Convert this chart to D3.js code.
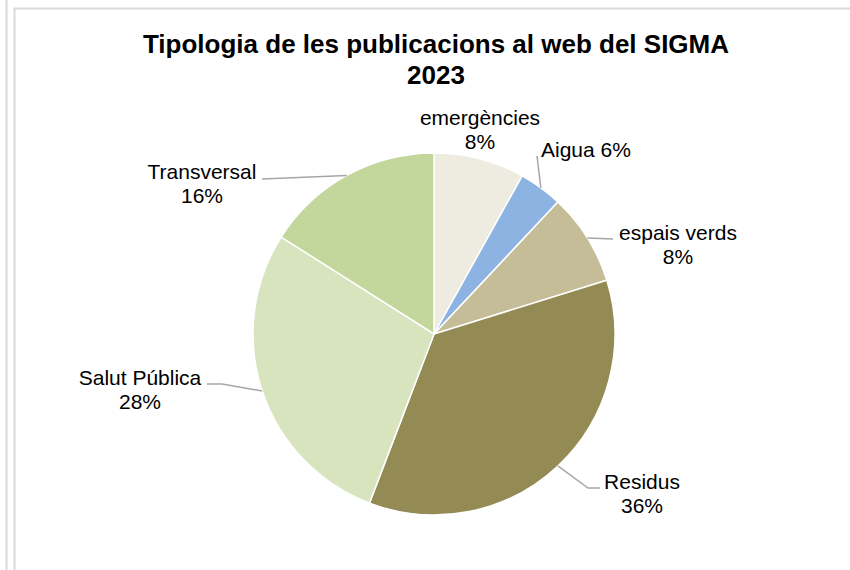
<!DOCTYPE html>
<html>
<head>
<meta charset="utf-8">
<script src="https://cdn.jsdelivr.net/npm/d3@7"></script>
<style>
  body { margin: 0; background: #fff; }
  text { font-family: "Liberation Sans", Arial, sans-serif; fill: #000; }
</style>
</head>
<body>
<svg id="pie-chart"></svg>
<script>
// data, clockwise from 12 o'clock
var categories = ["emergències", "Aigua", "espais verds", "Residus", "Salut Pública", "Transversal"];
var values     = [8.1, 3.9, 8.2, 35.6, 28.2, 16.0];
var pctLabels  = ["8%", "6%", "8%", "36%", "28%", "16%"];
var colors     = ["#eeece1", "#8db3e2", "#c4bd97", "#948a54", "#d7e4bd", "#c3d69b"];

var width = 850, height = 570;
var cx = 434, cy = 334, radius = 181;

// label placement (x, y of first line, anchor, one line or two, leader elbow points)
var labelLayout = [
  {x: 480, y: 125, anchor: "middle", oneLine: false, leader: null},
  {x: 541, y: 157, anchor: "start",  oneLine: true,  leader: [[537, 156]]},
  {x: 678, y: 240, anchor: "middle", oneLine: false, leader: [[613, 239]]},
  {x: 642, y: 489, anchor: "middle", oneLine: false, leader: [[588, 488], [600, 488]]},
  {x: 140, y: 385, anchor: "middle", oneLine: false, leader: [[222, 384], [207, 384]]},
  {x: 202, y: 179, anchor: "middle", oneLine: false, leader: [[262, 179]]}
];

var svg = d3.select("#pie-chart")
  .attr("width", width)
  .attr("height", height);

// frame lines
svg.append("line")
  .attr("x1", 6.5).attr("y1", 0).attr("x2", 6.5).attr("y2", height)
  .attr("stroke", "#d9d9d9").attr("stroke-width", 2);
svg.append("path")
  .attr("d", "M14.5," + height + "V8.5H" + width)
  .attr("fill", "none")
  .attr("stroke", "#d9d9d9").attr("stroke-width", 2);

// title
svg.append("text")
  .attr("x", 436).attr("y", 53)
  .attr("text-anchor", "middle")
  .attr("font-size", 26).attr("font-weight", "bold")
  .text("Tipologia de les publicacions al web del SIGMA");
svg.append("text")
  .attr("x", 436).attr("y", 84)
  .attr("text-anchor", "middle")
  .attr("font-size", 26).attr("font-weight", "bold")
  .text("2023");

var data = categories.map(function(c, i) {
  return {name: c, value: values[i], pct: pctLabels[i], color: colors[i], layout: labelLayout[i]};
});

var pie = d3.pie()
  .sort(null)
  .value(function(d) { return d.value; });

var arc = d3.arc()
  .innerRadius(0)
  .outerRadius(radius);

var arcs = pie(data);

var g = svg.append("g")
  .attr("transform", "translate(" + cx + "," + cy + ")");

g.selectAll("path.slice")
  .data(arcs)
  .enter()
  .append("path")
  .attr("class", "slice")
  .attr("d", arc)
  .attr("fill", function(d) { return d.data.color; })
  .attr("stroke", "#fff")
  .attr("stroke-width", 1.5);

// leader lines, from the middle of each slice edge
arcs.forEach(function(d) {
  var lay = d.data.layout;
  if (!lay.leader) return;
  var mid = (d.startAngle + d.endAngle) / 2;
  var pts = [[cx + radius * Math.sin(mid), cy - radius * Math.cos(mid)]].concat(lay.leader);
  svg.append("path")
    .attr("d", d3.line()(pts))
    .attr("fill", "none")
    .attr("stroke", "#a6a6a6")
    .attr("stroke-width", 1.5);
});

// labels
arcs.forEach(function(d) {
  var lay = d.data.layout;
  var t = svg.append("text")
    .attr("x", lay.x).attr("y", lay.y)
    .attr("text-anchor", lay.anchor)
    .attr("font-size", 21);
  if (lay.oneLine) {
    t.text(d.data.name + " " + d.data.pct);
  } else {
    t.append("tspan").attr("x", lay.x).text(d.data.name);
    t.append("tspan").attr("x", lay.x).attr("dy", 24).text(d.data.pct);
  }
});
</script>
</body>
</html>
